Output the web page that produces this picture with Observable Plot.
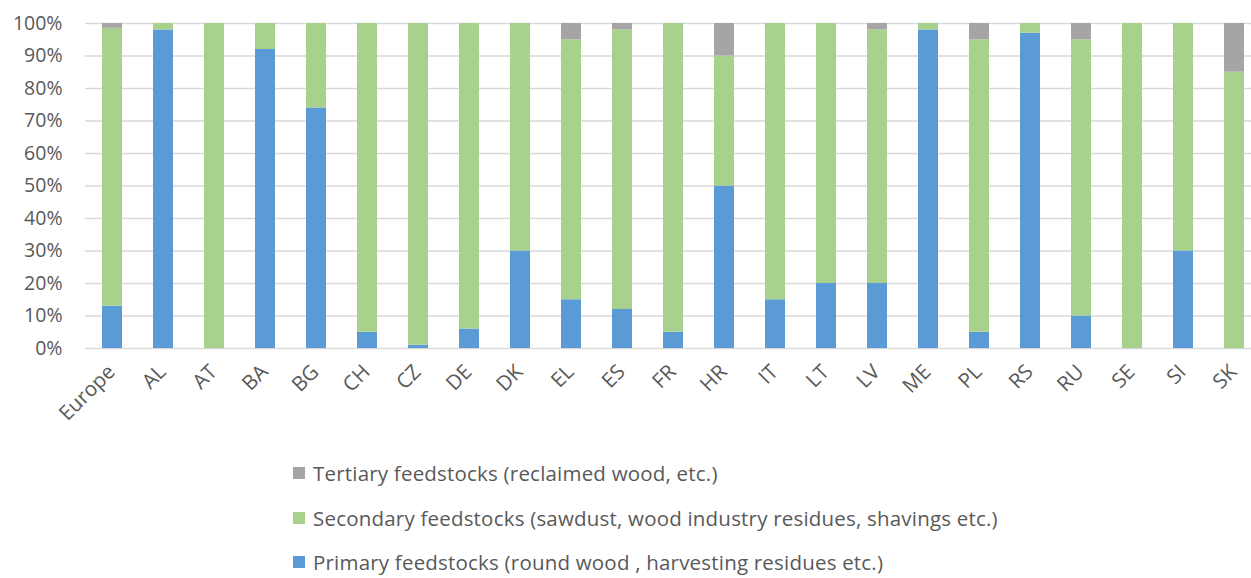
<!DOCTYPE html>
<html>
<head>
<meta charset="utf-8">
<script src="https://cdn.jsdelivr.net/npm/d3@7"></script>
<script src="https://cdn.jsdelivr.net/npm/@observablehq/plot@0.6"></script>
<style>
  html, body { margin: 0; padding: 0; background: #fff; }
  #chart { width: 1251px; height: 578px; position: relative; overflow: hidden; font-family: "Open Sans", Lato, sans-serif; color: #595959; }
  #legend { position: absolute; left: 293px; top: 451px; }
  .row { height: 44.5px; display: flex; align-items: center; font-size: 20.5px; letter-spacing: 0.2px; color: #595959; }
  .sw { width: 12px; height: 12px; margin-right: 8px; }
</style>
</head>
<body>
<div id="chart"></div>
<script>
const countries = ["Europe","AL","AT","BA","BG","CH","CZ","DE","DK","EL","ES","FR","HR","IT","LT","LV","ME","PL","RS","RU","SE","SI","SK"];
const primary   = [13, 98, 0, 92, 74, 5, 1, 6, 30, 15, 12, 5, 50, 15, 20, 20, 98, 5, 97, 10, 0, 30, 0];
const secondary = [85.5, 2, 100, 8, 26, 95, 99, 94, 70, 80, 86, 95, 40, 85, 80, 78, 2, 90, 3, 85, 100, 70, 85];
const tertiary  = [1.5, 0, 0, 0, 0, 0, 0, 0, 0, 5, 2, 0, 10, 0, 0, 2, 0, 5, 0, 5, 0, 0, 15];
const seriesNames = [
  "Primary feedstocks (round wood , harvesting residues etc.)",
  "Secondary feedstocks (sawdust, wood industry residues, shavings etc.)",
  "Tertiary feedstocks (reclaimed wood, etc.)"
];
const seriesColors = ["#5B9BD5", "#A9D18E", "#A5A5A5"];
const yTicks = [0,10,20,30,40,50,60,70,80,90,100];

const seriesValues = [primary, secondary, tertiary];
const data = [];
countries.forEach((c, i) => {
  seriesValues.forEach((vals, s) => {
    data.push({country: c, series: seriesNames[s], value: vals[i]});
  });
});

const plot = Plot.plot({
  width: 1251,
  height: 440,
  marginTop: 23,
  marginBottom: 92,
  marginLeft: 85,
  marginRight: 0,
  style: {fontFamily: "'Open Sans', Lato, sans-serif", color: "#595959", background: "transparent"},
  x: {domain: countries, range: [85, 1262], paddingInner: 0.6, paddingOuter: 0.3, label: null},
  y: {domain: [0, 100], label: null},
  color: {domain: seriesNames, range: seriesColors},
  marks: [
    Plot.ruleY(yTicks, {stroke: "#d9d9d9", strokeWidth: 1.4}),
    Plot.barY(data, {x: "country", y: "value", fill: "series"}),
    Plot.axisY(yTicks, {tickSize: 0, tickPadding: 23, tickFormat: d => d + "%", fontSize: 19.5, label: null}),
    Plot.axisX({tickSize: 0, tickPadding: 20, dx: -1, tickRotate: -45, fontSize: 20.5, label: null})
  ]
});

const chart = document.getElementById("chart");
chart.appendChild(plot);

const legend = document.createElement("div");
legend.id = "legend";
[2, 1, 0].forEach(s => {
  const row = document.createElement("div");
  row.className = "row";
  const sw = document.createElement("span");
  sw.className = "sw";
  sw.style.background = seriesColors[s];
  const t = document.createElement("span");
  t.textContent = seriesNames[s];
  row.appendChild(sw);
  row.appendChild(t);
  legend.appendChild(row);
});
chart.appendChild(legend);
</script>
</body>
</html>
